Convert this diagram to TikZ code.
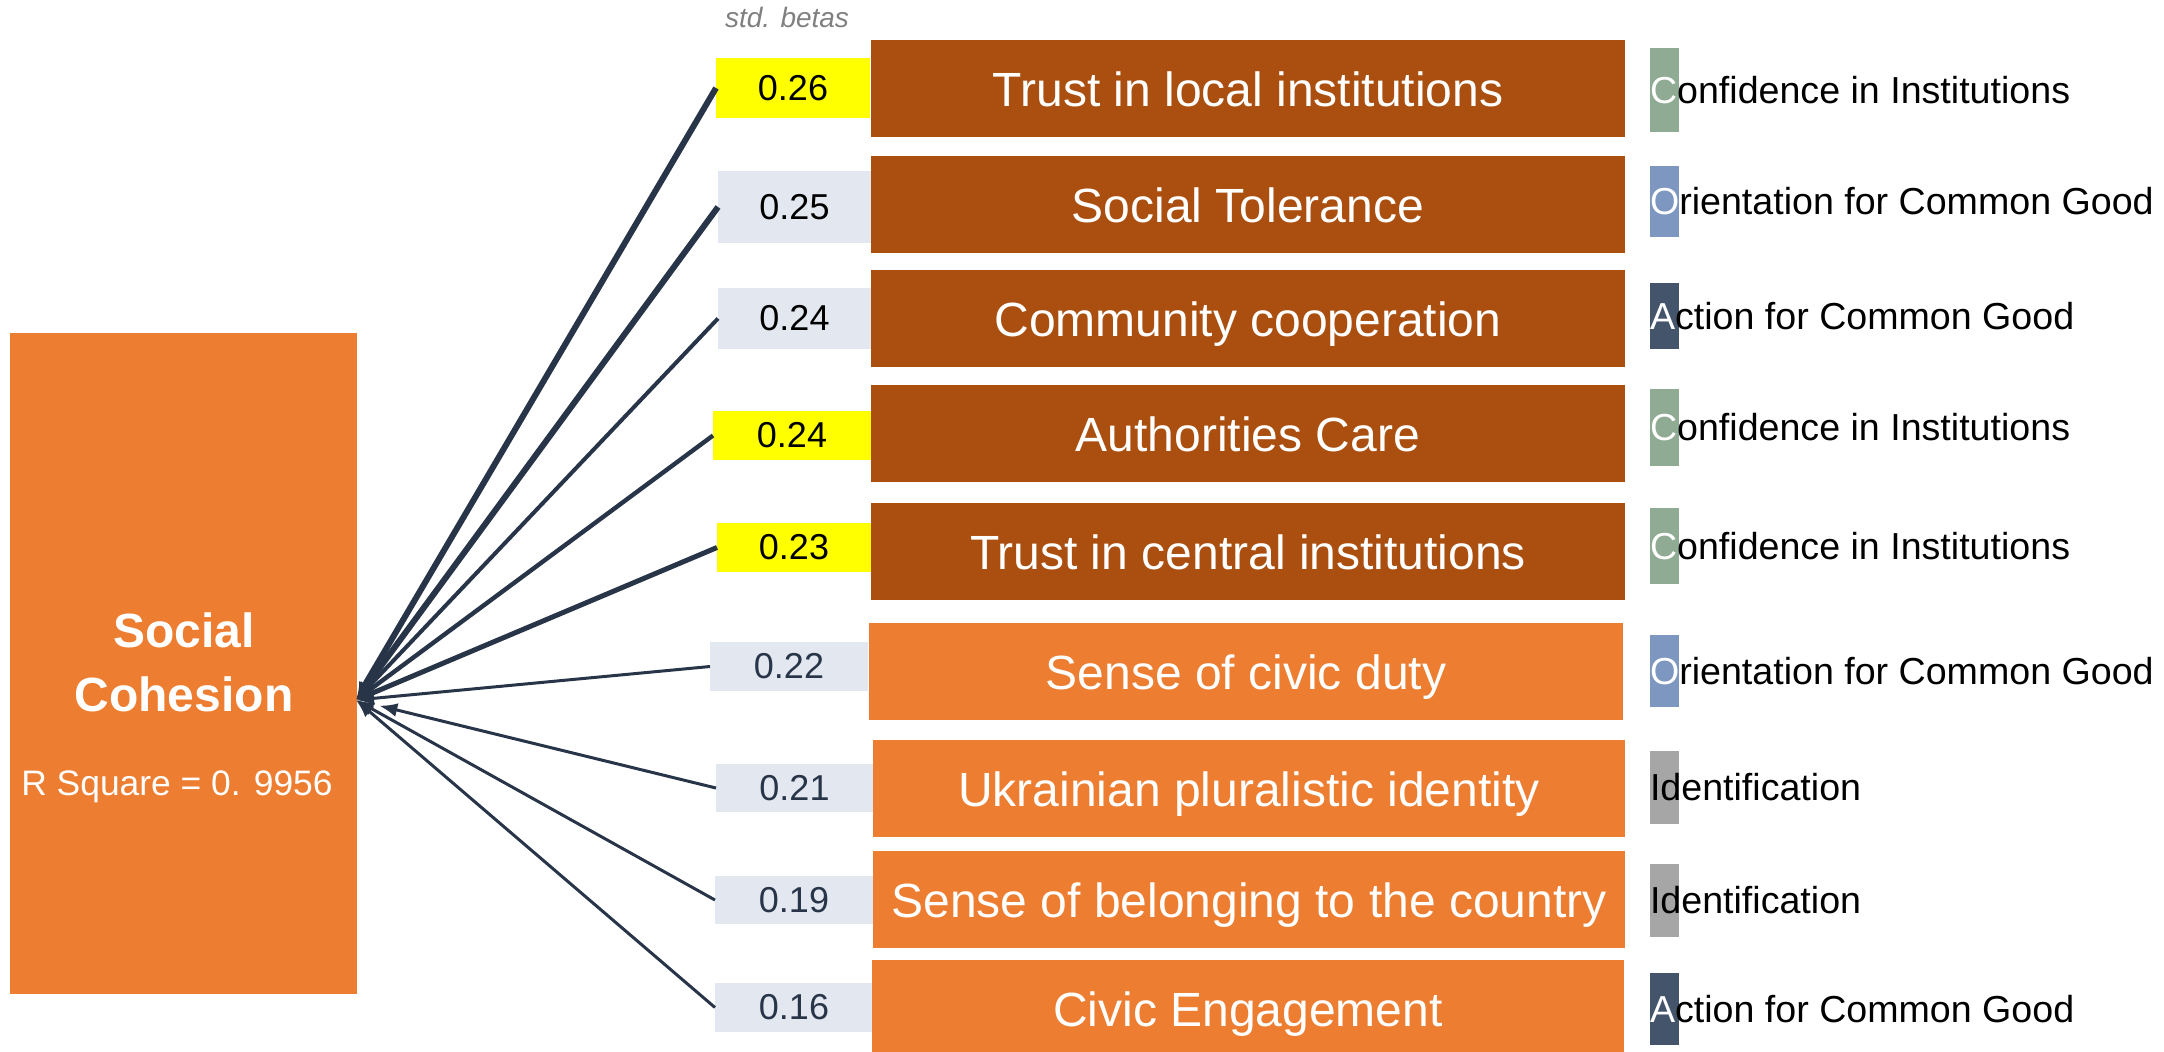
\documentclass[tikz,border=0pt]{standalone}
\usepackage{fontspec}
\setmainfont{Liberation Sans}
\usetikzlibrary{arrows.meta}

\definecolor{rust}{HTML}{AB4F10}
\definecolor{amber}{HTML}{ED7D31}
\definecolor{mist}{HTML}{E3E7EF}
\definecolor{lemon}{HTML}{FFFF00}
\definecolor{ink}{HTML}{283548}
\definecolor{sage}{HTML}{8FAB94}
\definecolor{steel}{HTML}{7E97C0}
\definecolor{slate}{HTML}{44546A}
\definecolor{ash}{HTML}{A6A6A6}

\begin{document}
\begin{tikzpicture}[x=0.5pt, y=-0.5pt,
  every node/.style = {inner sep=0, outer sep=0},
  beta/.style = {anchor=north west, font=\fontsize{18}{20}\selectfont},
  factor/.style = {anchor=north west, minimum width=377pt,
    minimum height=48.5pt, text=white, text height=17.5pt, text depth=0pt,
    font=\fontsize{24}{28}\selectfont},
  tag/.style = {anchor=north west, minimum width=14.5pt},
  dim/.style = {anchor=west, font=\fontsize{18.8}{20}\selectfont},
  link/.style = {draw=ink, -{Latex[length=9pt,width=7pt]}}]
  \useasboundingbox (0,0) rectangle (2164,1051);

  % outcome
  \node[anchor=north west, fill=amber, minimum width=173.5pt,
    minimum height=330.5pt] (sc) at (10,333) {};
  \node[align=center, text=white,
    font=\bfseries\fontsize{24}{32}\selectfont] (title) at (184,662)
    {Social\\Cohesion};
  \node[text=white, font=\fontsize{17.7}{20}\selectfont] (rsq) at (177,787)
    {R Square = 0. 9956};
  \coordinate (hub) at (356,700);

  \node[text=black!50, font=\itshape\fontsize{14}{16}\selectfont] (hdr)
    at (787,17) {std. betas};

  % betas
  \node[beta, fill=lemon, minimum width=77pt, minimum height=30pt] (b1) at (716,58) {0.26};
  \node[beta, fill=mist, minimum width=76.5pt, minimum height=36pt] (b2) at (718,171) {0.25};
  \node[beta, fill=mist, minimum width=76.5pt, minimum height=30.5pt] (b3) at (718,288) {0.24};
  \node[beta, fill=lemon, minimum width=79pt, minimum height=24.5pt] (b4) at (713,411) {0.24};
  \node[beta, fill=lemon, minimum width=77pt, minimum height=24.5pt] (b5) at (717,523) {0.23};
  \node[beta, fill=mist, text=ink, minimum width=79pt, minimum height=24.5pt] (b6) at (710,642) {0.22};
  \node[beta, fill=mist, text=ink, minimum width=78.5pt, minimum height=24pt] (b7) at (716,764) {0.21};
  \node[beta, fill=mist, text=ink, minimum width=79pt, minimum height=24pt] (b8) at (715,876) {0.19};
  \node[beta, fill=mist, text=ink, minimum width=79pt, minimum height=24.5pt] (b9) at (715,983) {0.16};

  % predictors
  \node[factor, fill=rust] (f1) at (871,40) {Trust in local institutions};
  \node[factor, fill=rust] (f2) at (871,156) {Social Tolerance};
  \node[factor, fill=rust] (f3) at (871,270) {Community cooperation};
  \node[factor, fill=rust] (f4) at (871,385) {Authorities Care};
  \node[factor, fill=rust] (f5) at (871,503) {Trust in central institutions};
  \node[factor, fill=amber] (f6) at (869,623) {Sense of civic duty};
  \node[factor, fill=amber, minimum width=376pt] (f7) at (873,740) {Ukrainian pluralistic identity};
  \node[factor, fill=amber, minimum width=376pt] (f8) at (873,851) {Sense of belonging to the country};
  \node[factor, fill=amber, minimum width=376pt] (f9) at (872,960) {Civic Engagement};

  % dimensions
  \node[tag, fill=sage, minimum height=42pt] (t1) at (1650,48) {};
  \node[tag, fill=steel, minimum height=35.5pt] (t2) at (1650,166) {};
  \node[tag, fill=slate, minimum height=33pt] (t3) at (1650,283) {};
  \node[tag, fill=sage, minimum height=38.5pt] (t4) at (1650,389) {};
  \node[tag, fill=sage, minimum height=38pt] (t5) at (1650,508) {};
  \node[tag, fill=steel, minimum height=36pt] (t6) at (1650,635) {};
  \node[tag, fill=ash, minimum height=36.5pt] (t7) at (1650,751) {};
  \node[tag, fill=ash, minimum height=36.5pt] (t8) at (1650,864) {};
  \node[tag, fill=slate, minimum height=36pt] (t9) at (1650,973) {};
  \node[dim] (d1) at (t1.west) {\textcolor{white}{C}onfidence in Institutions};
  \node[dim] (d2) at (t2.west) {\textcolor{white}{O}rientation for Common Good};
  \node[dim] (d3) at (t3.west) {\textcolor{white}{A}ction for Common Good};
  \node[dim] (d4) at (t4.west) {\textcolor{white}{C}onfidence in Institutions};
  \node[dim] (d5) at (t5.west) {\textcolor{white}{C}onfidence in Institutions};
  \node[dim] (d6) at (t6.west) {\textcolor{white}{O}rientation for Common Good};
  \node[dim] (d7) at (t7.west) {Identification};
  \node[dim] (d8) at (t8.west) {Identification};
  \node[dim] (d9) at (t9.west) {\textcolor{white}{A}ction for Common Good};

  % paths into the outcome
  \draw[link, line width=3pt] (b1.west) -- (hub);
  \draw[link, line width=3pt] (b2.west) -- (hub);
  \draw[link, line width=2pt] (b3.west) -- (hub);
  \draw[link, line width=2.2pt] (b4.west) -- (hub);
  \draw[link, line width=2.5pt] (b5.west) -- (hub);
  \draw[link, line width=1.5pt] (b6.west) -- (hub);
  \draw[link, line width=1.5pt, shorten >=12pt] (b7.west) -- (hub);
  \draw[link, line width=1.5pt] (b8.west) -- (hub);
  \draw[link, line width=1.5pt] (b9.west) -- (hub);
\end{tikzpicture}
\end{document}
